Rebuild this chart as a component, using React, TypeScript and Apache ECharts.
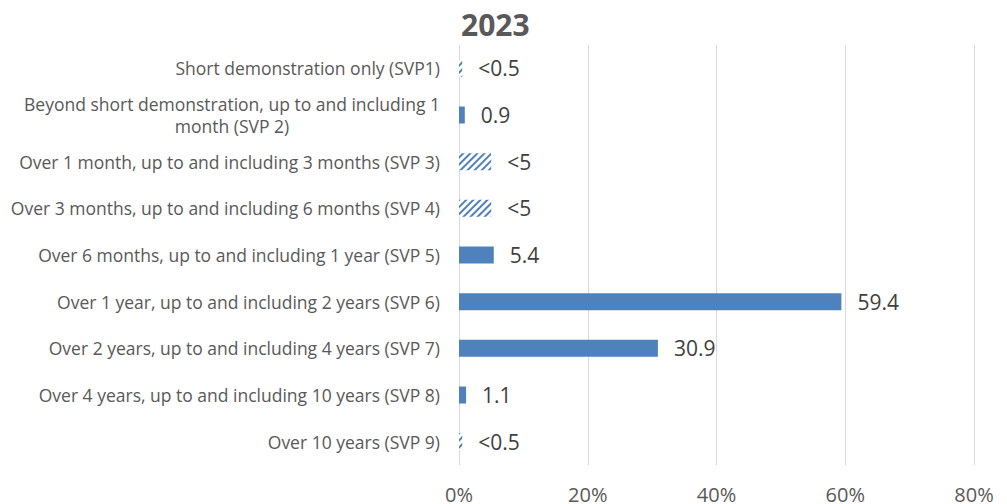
import React, { useEffect, useRef } from "react";
import * as echarts from "echarts";

const categories: string[] = [
  "Short demonstration only (SVP1)",
  "Beyond short demonstration, up to and including 1\nmonth (SVP 2)",
  "Over 1 month, up to and including 3 months (SVP 3)",
  "Over 3 months, up to and including 6 months (SVP 4)",
  "Over 6 months, up to and including 1 year (SVP 5)",
  "Over 1 year, up to and including 2 years (SVP 6)",
  "Over 2 years, up to and including 4 years (SVP 7)",
  "Over 4 years, up to and including 10 years (SVP 8)",
  "Over 10 years (SVP 9)",
];
const values: number[] = [0.5, 0.9, 5, 5, 5.4, 59.4, 30.9, 1.1, 0.5];
const valueLabels: string[] = ["<0.5", "0.9", "<5", "<5", "5.4", "59.4", "30.9", "1.1", "<0.5"];
const suppressed: boolean[] = [true, false, true, true, false, false, false, false, true];
const xTicks: number[] = [0, 20, 40, 60, 80];
const titleText = "2023";

const BLUE = "#4f81bd";
const FONT = "'Open Sans', sans-serif";

export default function App() {
  const ref = useRef<HTMLDivElement>(null);
  useEffect(() => {
    document.body.style.margin = "0";
    const chart = echarts.init(ref.current!, undefined, { renderer: "svg" });
    const data = values.map((v, i) =>
      suppressed[i]
        ? {
            value: v,
            itemStyle: {
              color: "#ffffff",
              decal: {
                symbol: "rect",
                symbolSize: 1,
                color: BLUE,
                backgroundColor: "#ffffff",
                dashArrayX: [1, 0],
                dashArrayY: [2, 2.5],
                rotation: -Math.PI / 4,
              },
            },
          }
        : { value: v, itemStyle: { color: BLUE } }
    );
    chart.setOption({
      animation: false,
      textStyle: { fontFamily: FONT },
      title: {
        text: titleText,
        left: 456,
        top: 4,
        textStyle: { fontFamily: FONT, fontSize: 30, fontWeight: "bold", color: "#595959" },
      },
      grid: { left: 459, right: 33, top: 45, bottom: 38, containLabel: false },
      xAxis: {
        type: "value",
        min: xTicks[0],
        max: xTicks[xTicks.length - 1],
        interval: 20,
        axisLine: { show: false },
        axisTick: { show: false },
        splitLine: { show: true, lineStyle: { color: "#d9d9d9", width: 1 } },
        axisLabel: { formatter: "{value}%", fontSize: 20, color: "#595959", margin: 19, fontFamily: FONT },
      },
      yAxis: {
        type: "category",
        inverse: true,
        data: categories,
        axisLine: { show: false },
        axisTick: { show: false },
        axisLabel: {
          margin: 19,
          fontSize: 17.5,
          color: "#595959",
          fontFamily: FONT,
          formatter: (v: string) =>
            v.includes("\n") ? v.split("\n").map((s) => `{c|${s}}`).join("\n") : v,
          rich: { c: { align: "center", fontSize: 17.5, color: "#595959", fontFamily: FONT, lineHeight: 22 } },
        },
      },
      series: [
        {
          type: "bar",
          data,
          barWidth: 17,
          label: {
            show: true,
            position: "right",
            distance: 16,
            fontSize: 21,
            color: "#404040",
            fontFamily: FONT,
            formatter: (p: any) => valueLabels[p.dataIndex],
          },
        },
      ],
    });
    return () => chart.dispose();
  }, []);
  return <div ref={ref} style={{ width: 1007, height: 504 }} />;
}
